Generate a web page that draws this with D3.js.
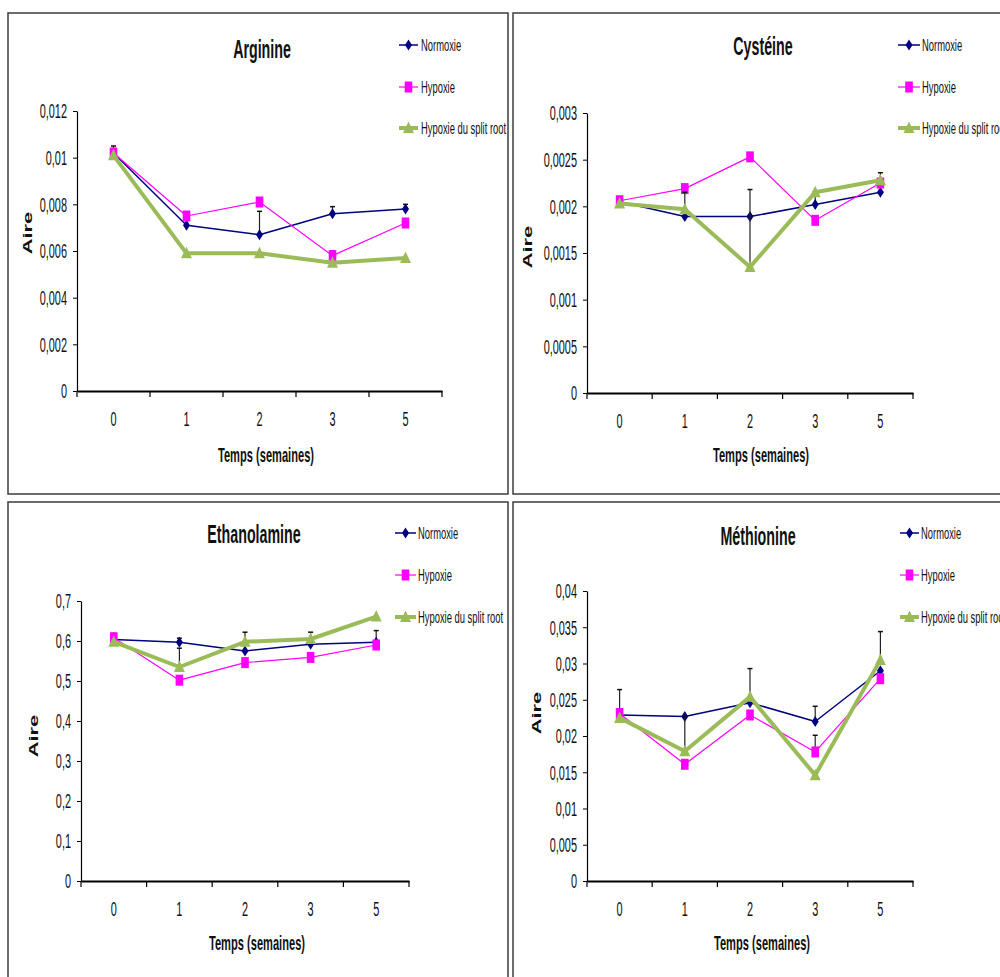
<!DOCTYPE html>
<html>
<head>
<meta charset="utf-8">
<script src="https://cdn.jsdelivr.net/npm/d3@7"></script>
<style>
  html, body { margin: 0; padding: 0; background: #fff; }
  svg { display: block; }
  text { font-family: "Liberation Sans", Arial, sans-serif; fill: #111; }
</style>
</head>
<body>
<svg id="chart" width="1000" height="977"></svg>
<script>
// ---------- DATA ----------
const categories = ["0", "1", "2", "3", "5"];
const seriesNames = ["Normoxie", "Hypoxie", "Hypoxie du split root"];
const xTitle = "Temps (semaines)";
const yTitle = "Aire";

// Arginine
const argNormoxie = [0.0102, 0.0071, 0.0067, 0.0076, 0.0078];
const argHypoxie  = [0.0102, 0.0075, 0.0081, 0.0058, 0.0072];
const argSplit    = [0.0101, 0.0059, 0.0059, 0.0055, 0.0057];
const argNormoxieErr = [0.0003, null, 0.0010, 0.0003, 0.0002];
const argHypoxieErr  = [null, null, null, 0.0002, null];
const argSplitErr    = [null, null, null, null, null];
const argTicks = [0, 0.002, 0.004, 0.006, 0.008, 0.01, 0.012];

// Cystéine
const cysNormoxie = [0.00205, 0.00189, 0.00189, 0.00202, 0.00215];
const cysHypoxie  = [0.00206, 0.00219, 0.00253, 0.00185, 0.00225];
const cysSplit    = [0.00203, 0.00197, 0.00135, 0.00215, 0.00228];
const cysNormoxieErr = [null, null, null, 0.00014, null];
const cysHypoxieErr  = [null, null, null, null, null];
const cysSplitErr    = [null, 0.00018, 0.00083, null, 0.00008];
const cysTicks = [0, 0.0005, 0.001, 0.0015, 0.002, 0.0025, 0.003];

// Ethanolamine
const ethNormoxie = [0.604, 0.597, 0.575, 0.592, 0.597];
const ethHypoxie  = [0.608, 0.502, 0.546, 0.559, 0.590];
const ethSplit    = [0.598, 0.535, 0.598, 0.605, 0.661];
const ethNormoxieErr = [0.015, 0.010, null, null, 0.029];
const ethHypoxieErr  = [null, null, null, null, null];
const ethSplitErr    = [null, 0.047, 0.024, 0.017, null];
const ethTicks = [0, 0.1, 0.2, 0.3, 0.4, 0.5, 0.6, 0.7];

// Méthionine
const metNormoxie = [0.0229, 0.0227, 0.0246, 0.0220, 0.0290];
const metHypoxie  = [0.0231, 0.0161, 0.0229, 0.0178, 0.0279];
const metSplit    = [0.0225, 0.0179, 0.0254, 0.0146, 0.0305];
const metNormoxieErr = [0.0035, null, null, 0.0021, null];
const metHypoxieErr  = [null, null, null, 0.0023, null];
const metSplitErr    = [null, 0.0047, 0.0039, null, 0.0039];
const metTicks = [0, 0.005, 0.01, 0.015, 0.02, 0.025, 0.03, 0.035, 0.04];

// ---------- LAYOUT / STYLE ----------
const SX = 0.57;            // horizontal text compression
const SXT = 0.52;           // tick-label compression
const TICK_FS = 21;
const colors = ["#000080", "#FF00FF", "#9BBB59"];
const widths = [1.5, 1.2, 4];

const panels = [
  { title: "Arginine", vals: [argNormoxie, argHypoxie, argSplit], errs: [argNormoxieErr, argHypoxieErr, argSplitErr], ticks: argTicks,
    box: [8, 13, 500, 481], plot: { l: 77, t: 111, r: 442, b: 391 }, titlePos: [262, 58],
    legend: { x1: 399, x2: 418, tx: 421, ys: [45, 87, 128] }, yLab: [28, 233], xLab: [266, 455] },
  { title: "Cystéine", vals: [cysNormoxie, cysHypoxie, cysSplit], errs: [cysNormoxieErr, cysHypoxieErr, cysSplitErr], ticks: cysTicks,
    box: [513, 13, 520, 481], plot: { l: 587, t: 113, r: 913, b: 393 }, titlePos: [763, 55],
    legend: { x1: 898, x2: 920, tx: 922, ys: [45, 87, 128] }, yLab: [528, 247], xLab: [761, 455] },
  { title: "Ethanolamine", vals: [ethNormoxie, ethHypoxie, ethSplit], errs: [ethNormoxieErr, ethHypoxieErr, ethSplitErr], ticks: ethTicks,
    box: [8, 502, 500, 500], plot: { l: 81, t: 601, r: 409, b: 881 }, titlePos: [254, 543],
    legend: { x1: 395, x2: 416, tx: 418, ys: [533, 575, 617] }, yLab: [34, 736], xLab: [257, 943] },
  { title: "Méthionine", vals: [metNormoxie, metHypoxie, metSplit], errs: [metNormoxieErr, metHypoxieErr, metSplitErr], ticks: metTicks,
    box: [513, 502, 520, 500], plot: { l: 587, t: 591, r: 913, b: 881 }, titlePos: [758, 545],
    legend: { x1: 900, x2: 919, tx: 921, ys: [533, 575, 617] }, yLab: [537, 713], xLab: [762, 943] }
];

const fmt = v => String(+v.toFixed(6)).replace(".", ",");

const svg = d3.select("#chart");

function addText(g, x, y, str, size, weight, anchor) {
  return g.append("text")
    .attr("transform", `translate(${x},${y}) scale(${SX},1)`)
    .attr("text-anchor", anchor || "middle")
    .attr("font-size", size)
    .attr("font-weight", weight || "normal")
    .text(str);
}

function marker(g, i, x, y) {
  const c = colors[i];
  if (i === 0) {
    g.append("path").attr("d", `M${x},${y - 5.5}L${x + 3.5},${y}L${x},${y + 5.5}L${x - 3.5},${y}Z`).attr("fill", c);
  } else if (i === 1) {
    g.append("rect").attr("x", x - 3.8).attr("y", y - 5.5).attr("width", 7.6).attr("height", 11).attr("fill", c);
  } else {
    g.append("path").attr("d", `M${x},${y - 6.5}L${x + 5.5},${y + 5}L${x - 5.5},${y + 5}Z`).attr("fill", c);
  }
}

panels.forEach(p => {
  const g = svg.append("g");
  // panel frame
  g.append("rect").attr("x", p.box[0]).attr("y", p.box[1]).attr("width", p.box[2]).attr("height", p.box[3])
    .attr("fill", "none").attr("stroke", "#3c3c3c").attr("stroke-width", 1.5);

  const x = d3.scaleBand().domain(categories).range([p.plot.l, p.plot.r]).padding(0);
  const y = d3.scaleLinear().domain([d3.min(p.ticks), d3.max(p.ticks)]).range([p.plot.b, p.plot.t]);

  // y axis
  const ya = g.append("g").attr("transform", `translate(${p.plot.l},0)`)
    .call(d3.axisLeft(y).tickValues(p.ticks).tickSize(4).tickSizeOuter(0).tickFormat(fmt));
  ya.attr("font-size", null).attr("font-family", null);
  ya.select(".domain").attr("stroke", "#000").attr("stroke-width", 1.2);
  ya.selectAll(".tick line").attr("stroke", "#000");
  ya.selectAll(".tick text")
    .attr("x", null).attr("dy", null)
    .attr("transform", `translate(-10,0) scale(${SXT},1)`)
    .attr("dominant-baseline", "central")
    .attr("font-size", TICK_FS).attr("fill", "#111");

  // x axis (labels)
  const xa = g.append("g").attr("transform", `translate(0,${p.plot.b})`)
    .call(d3.axisBottom(x).tickSize(0).tickSizeOuter(0));
  xa.attr("font-size", null).attr("font-family", null);
  xa.select(".domain").attr("stroke", "#000").attr("stroke-width", 2.2);
  xa.selectAll(".tick text")
    .attr("y", null).attr("dy", null)
    .attr("transform", `translate(0,28) scale(${SXT},1)`)
    .attr("dominant-baseline", "central")
    .attr("font-size", TICK_FS).attr("fill", "#111");
  // boundary tick marks
  const bounds = categories.map(c => x(c)).concat([x(categories[categories.length - 1]) + x.bandwidth()]);
  g.selectAll(null).data(bounds).enter().append("line")
    .attr("x1", d => d).attr("x2", d => d).attr("y1", p.plot.b).attr("y2", p.plot.b + 6)
    .attr("stroke", "#000").attr("stroke-width", 1.2);

  const cx = c => x(c) + x.bandwidth() / 2;

  // series
  p.vals.forEach((vals, i) => {
    const errs = p.errs[i];
    // error bars
    errs.forEach((e, k) => {
      if (e == null) return;
      const xx = cx(categories[k]);
      const y1 = y(vals[k]), y2 = y(vals[k] + e);
      g.append("line").attr("x1", xx).attr("x2", xx).attr("y1", y1).attr("y2", y2).attr("stroke", "#222").attr("stroke-width", 1.2);
      g.append("line").attr("x1", xx - 2.5).attr("x2", xx + 2.5).attr("y1", y2).attr("y2", y2).attr("stroke", "#111").attr("stroke-width", 1.5);
    });
    const line = d3.line().x((d, k) => cx(categories[k])).y(d => y(d));
    g.append("path").attr("d", line(vals)).attr("fill", "none")
      .attr("stroke", colors[i]).attr("stroke-width", widths[i]).attr("stroke-linejoin", "round");
    vals.forEach((v, k) => marker(g, i, cx(categories[k]), y(v)));
  });

  // title
  addText(g, p.titlePos[0], p.titlePos[1], p.title, 25, "bold");
  // axis titles
  addText(g, p.xLab[0], p.xLab[1], xTitle, 19.5, "bold").attr("dominant-baseline", "central");
  g.append("text")
    .attr("transform", `translate(${p.yLab[0]},${p.yLab[1]}) scale(1,1.62) rotate(-90)`)
    .attr("text-anchor", "middle").attr("dominant-baseline", "central")
    .attr("font-size", 13.5).attr("font-weight", "bold").text(yTitle);

  // legend
  seriesNames.forEach((name, i) => {
    const ly = p.legend.ys[i];
    g.append("line").attr("x1", p.legend.x1).attr("x2", p.legend.x2).attr("y1", ly).attr("y2", ly)
      .attr("stroke", colors[i]).attr("stroke-width", widths[i]);
    marker(g, i, (p.legend.x1 + p.legend.x2) / 2, ly);
    addText(g, p.legend.tx, ly, name, 16.5, "normal", "start").attr("dominant-baseline", "central");
  });
});
</script>
</body>
</html>
